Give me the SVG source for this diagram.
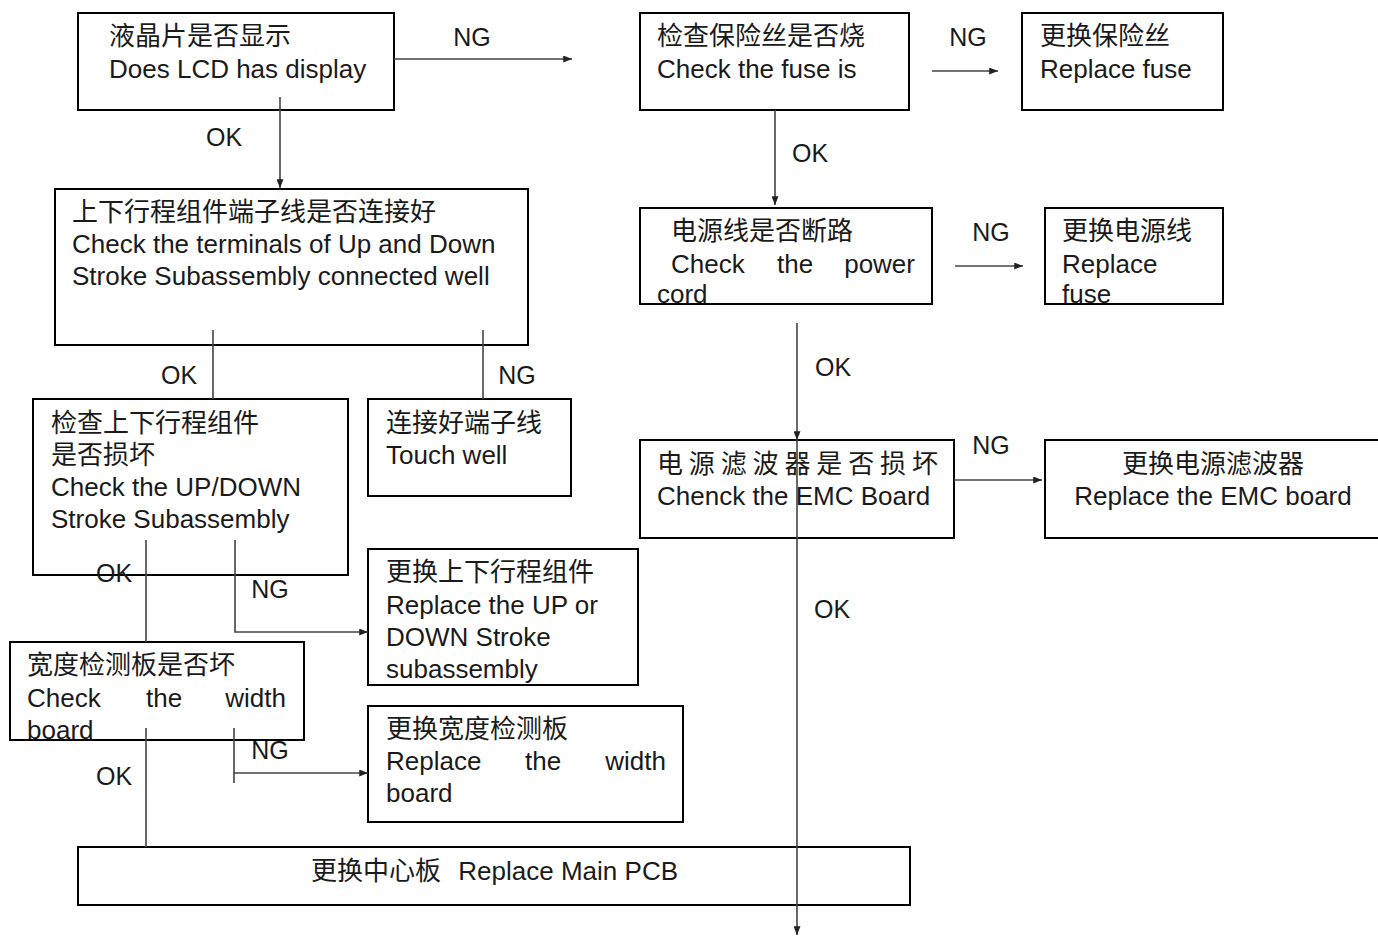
<svg xmlns="http://www.w3.org/2000/svg" width="1378" height="939" viewBox="0 0 1378 939">
<style>
.box{fill:#fff;stroke:#000;stroke-width:2}
text{font-family:"Liberation Sans","Noto Sans CJK SC",Arial,sans-serif;font-size:26px;fill:#1a1a1a}
.lbl{font-size:25px}
.c{stroke:#444;stroke-width:1.6;fill:none}
</style>
<defs>
<marker id="ah" viewBox="0 0 10 8" refX="10" refY="4" markerWidth="9" markerHeight="7" markerUnits="userSpaceOnUse" orient="auto">
<path d="M0,0 L10,4 L0,8 z" fill="#222"/>
</marker>
</defs>
<rect width="1378" height="939" fill="#fff"/>

<g id="n-lcd"><rect class="box" x="78" y="13" width="316" height="97"/>
<text x="109" y="45">液晶片是否显示</text><text x="109" y="78">Does LCD has display</text></g>

<g id="n-fuse"><rect class="box" x="640" y="13" width="269" height="97"/>
<text x="657" y="45">检查保险丝是否烧</text><text x="657" y="78">Check the fuse is</text></g>

<g id="n-repfuse"><rect class="box" x="1022" y="13" width="201" height="97"/>
<text x="1040" y="45">更换保险丝</text><text x="1040" y="78">Replace fuse</text></g>

<g id="n-cord"><rect class="box" x="640" y="208" width="292" height="96"/>
<text x="671" y="240">电源线是否断路</text>
<text x="671" y="273">Check</text><text x="777" y="273">the</text><text x="915" y="273" text-anchor="end">power</text>
<text x="657" y="303">cord</text></g>

<g id="n-repcord"><rect class="box" x="1045" y="208" width="178" height="96"/>
<text x="1062" y="240">更换电源线</text><text x="1062" y="273">Replace</text><text x="1062" y="303">fuse</text></g>

<g id="n-emc"><rect class="box" x="640" y="440" width="314" height="98"/>
<text x="657" y="473" textLength="281" lengthAdjust="spacing">电 源 滤 波 器 是 否 损 坏</text>
<text x="657" y="505">Chenck the EMC Board</text></g>

<g id="n-repemc"><rect class="box" x="1045" y="440" width="340" height="98"/>
<text x="1213" y="473" text-anchor="middle">更换电源滤波器</text>
<text x="1213" y="505" text-anchor="middle">Replace the EMC board</text></g>

<g id="n-term"><rect class="box" x="55" y="189" width="473" height="156"/>
<text x="72" y="221">上下行程组件端子线是否连接好</text>
<text x="72" y="253">Check the terminals of Up and Down</text>
<text x="72" y="285">Stroke Subassembly connected well</text></g>

<g id="n-updown"><rect class="box" x="33" y="399" width="315" height="176"/>
<text x="51" y="432">检查上下行程组件</text><text x="51" y="464">是否损坏</text>
<text x="51" y="496">Check the UP/DOWN</text><text x="51" y="528">Stroke Subassembly</text></g>

<g id="n-touch"><rect class="box" x="368" y="399" width="203" height="97"/>
<text x="386" y="432">连接好端子线</text><text x="386" y="464">Touch well</text></g>

<g id="n-repupdown"><rect class="box" x="368" y="549" width="270" height="136"/>
<text x="386" y="581">更换上下行程组件</text><text x="386" y="614">Replace the UP or</text>
<text x="386" y="646">DOWN Stroke</text><text x="386" y="678">subassembly</text></g>

<g id="n-width"><rect class="box" x="10" y="642" width="294" height="98"/>
<text x="27" y="674">宽度检测板是否坏</text>
<text x="27" y="707">Check</text><text x="146" y="707">the</text><text x="286" y="707" text-anchor="end">width</text>
<text x="27" y="739">board</text></g>

<g id="n-repwidth"><rect class="box" x="368" y="706" width="315" height="116"/>
<text x="386" y="738">更换宽度检测板</text>
<text x="386" y="770">Replace</text><text x="525" y="770">the</text><text x="666" y="770" text-anchor="end">width</text>
<text x="386" y="802">board</text></g>

<g id="n-main"><rect class="box" x="78" y="847" width="832" height="58"/>
<text x="311" y="880">更换中心板</text><text x="678" y="880" text-anchor="end">Replace Main PCB</text></g>

<g id="connectors">
<path class="c" d="M394,59 H572" marker-end="url(#ah)"/>
<path class="c" d="M932,71 H998" marker-end="url(#ah)"/>
<path class="c" d="M775,110 V205" marker-end="url(#ah)"/>
<path class="c" d="M955,266 H1023" marker-end="url(#ah)"/>
<path class="c" d="M797,323 V440" marker-end="url(#ah)"/>
<path class="c" d="M797,440 V935" marker-end="url(#ah)"/>
<path class="c" d="M954,480 H1042" marker-end="url(#ah)"/>
<path class="c" d="M280,97 V188" marker-end="url(#ah)"/>
<path class="c" d="M213,330 V399"/>
<path class="c" d="M483,330 V399"/>
<path class="c" d="M146,540 V642"/>
<path class="c" d="M235,540 V632 H368" marker-end="url(#ah)"/>
<path class="c" d="M146,728 V847"/>
<path class="c" d="M234,728 V783 M234,773 H368" marker-end="url(#ah)"/>
<text class="lbl" x="472" y="46" text-anchor="middle">NG</text>
<text class="lbl" x="968" y="46" text-anchor="middle">NG</text>
<text class="lbl" x="810" y="162" text-anchor="middle">OK</text>
<text class="lbl" x="991" y="241" text-anchor="middle">NG</text>
<text class="lbl" x="833" y="376" text-anchor="middle">OK</text>
<text class="lbl" x="991" y="454" text-anchor="middle">NG</text>
<text class="lbl" x="832" y="618" text-anchor="middle">OK</text>
<text class="lbl" x="224" y="146" text-anchor="middle">OK</text>
<text class="lbl" x="179" y="384" text-anchor="middle">OK</text>
<text class="lbl" x="517" y="384" text-anchor="middle">NG</text>
<text class="lbl" x="114" y="582" text-anchor="middle">OK</text>
<text class="lbl" x="270" y="598" text-anchor="middle">NG</text>
<text class="lbl" x="270" y="759" text-anchor="middle">NG</text>
<text class="lbl" x="114" y="785" text-anchor="middle">OK</text>
</g>
</svg>
